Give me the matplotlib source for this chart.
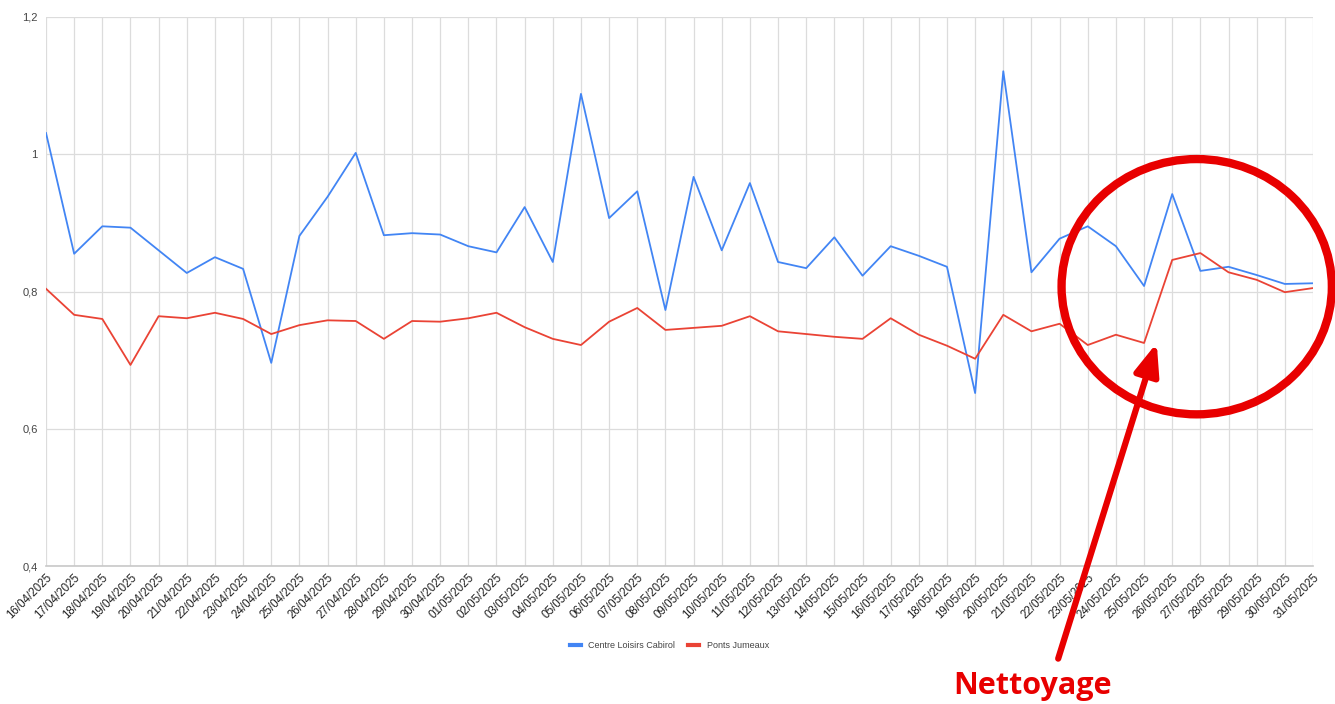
import matplotlib
matplotlib.use("Agg")
import matplotlib.pyplot as plt
from matplotlib.patches import Ellipse
from matplotlib.ticker import FuncFormatter

# Data
dates = [
    "16/04/2025", "17/04/2025", "18/04/2025", "19/04/2025", "20/04/2025",
    "21/04/2025", "22/04/2025", "23/04/2025", "24/04/2025", "25/04/2025",
    "26/04/2025", "27/04/2025", "28/04/2025", "29/04/2025", "30/04/2025",
    "01/05/2025", "02/05/2025", "03/05/2025", "04/05/2025", "05/05/2025",
    "06/05/2025", "07/05/2025", "08/05/2025", "09/05/2025", "10/05/2025",
    "11/05/2025", "12/05/2025", "13/05/2025", "14/05/2025", "15/05/2025",
    "16/05/2025", "17/05/2025", "18/05/2025", "19/05/2025", "20/05/2025",
    "21/05/2025", "22/05/2025", "23/05/2025", "24/05/2025", "25/05/2025",
    "26/05/2025", "27/05/2025", "28/05/2025", "29/05/2025", "30/05/2025",
    "31/05/2025",
]

cabirol = [
    1.031, 0.855, 0.895, 0.893, 0.860, 0.827, 0.850, 0.833, 0.696, 0.881,
    0.938, 1.002, 0.882, 0.885, 0.883, 0.866, 0.857, 0.923, 0.843, 1.088,
    0.907, 0.946, 0.773, 0.967, 0.860, 0.958, 0.843, 0.834, 0.879, 0.823,
    0.866, 0.852, 0.836, 0.652, 1.121, 0.828, 0.877, 0.895, 0.866, 0.808,
    0.942, 0.830, 0.836, 0.824, 0.811, 0.812,
]

ponts_jumeaux = [
    0.804, 0.766, 0.760, 0.693, 0.764, 0.761, 0.769, 0.760, 0.738, 0.751,
    0.758, 0.757, 0.731, 0.757, 0.756, 0.761, 0.769, 0.748, 0.731, 0.722,
    0.756, 0.776, 0.744, 0.747, 0.750, 0.764, 0.742, 0.738, 0.734, 0.731,
    0.761, 0.737, 0.721, 0.702, 0.766, 0.742, 0.753, 0.722, 0.737, 0.725,
    0.846, 0.856, 0.828, 0.817, 0.799, 0.805,
]

y_ticks = [0.4, 0.6, 0.8, 1.0, 1.2]

plt.rcParams["font.family"] = ["Liberation Sans", "DejaVu Sans"]

fig = plt.figure(figsize=(13.35, 7.04), dpi=100)
ax = fig.add_axes([46 / 1335, 1 - 566 / 704, 1267 / 1335, 549 / 704])

x = list(range(len(dates)))
ax.plot(x, cabirol, color="#4285F4", lw=1.3, label="Centre Loisirs Cabirol", zorder=3)
ax.plot(x, ponts_jumeaux, color="#EA4335", lw=1.3, label="Ponts Jumeaux", zorder=3)

ax.set_xlim(0, len(dates) - 1)
ax.set_ylim(0.4, 1.2)
ax.set_yticks(y_ticks)
ax.yaxis.set_major_formatter(
    FuncFormatter(lambda v, p: ("%g" % round(v, 1)).replace(".", ","))
)
ax.set_xticks(x)
ax.set_xticklabels(dates, rotation=45, ha="right", va="top",
                   rotation_mode="anchor", fontsize=8.3, color="#222222")
ax.tick_params(axis="y", labelsize=8, colors="#444444", length=0, pad=6)
ax.tick_params(axis="x", length=0, pad=4)

ax.grid(True, color="#dcdcdc", lw=0.9)
ax.set_axisbelow(True)
for side in ["top", "right", "left"]:
    ax.spines[side].set_visible(False)
ax.spines["bottom"].set_color("#c8c8c8")
ax.spines["bottom"].set_linewidth(1.2)

leg = ax.legend(loc="upper center", bbox_to_anchor=(0.492, -0.122), ncol=2,
                frameon=False, fontsize=6.5, handlelength=1.2,
                handletextpad=0.8, columnspacing=1.5)
for line in leg.get_lines():
    line.set_linewidth(3)
for t in leg.get_texts():
    t.set_color("#444444")

# Annotation: circle + arrow + label
red = "#E80000"
ell = Ellipse((40.87, 0.807), width=9.6, height=0.372, fill=False,
              edgecolor=red, lw=6, clip_on=False, zorder=5)
ax.add_patch(ell)

ax.annotate("", xy=(39.45, 0.725), xytext=(35.95, 0.265),
            arrowprops=dict(arrowstyle="-|>,head_length=1.9,head_width=0.75",
                            color=red, lw=4.5, shrinkA=0, shrinkB=0),
            annotation_clip=False, zorder=6)

fig.text(1032 / 1335, 1 - 686 / 704, "Nettoyage", color=red,
         fontsize=22, fontweight="bold", ha="center", va="center",
         family=["Open Sans", "DejaVu Sans"])

fig.savefig("out.png", dpi=100, facecolor="white")
